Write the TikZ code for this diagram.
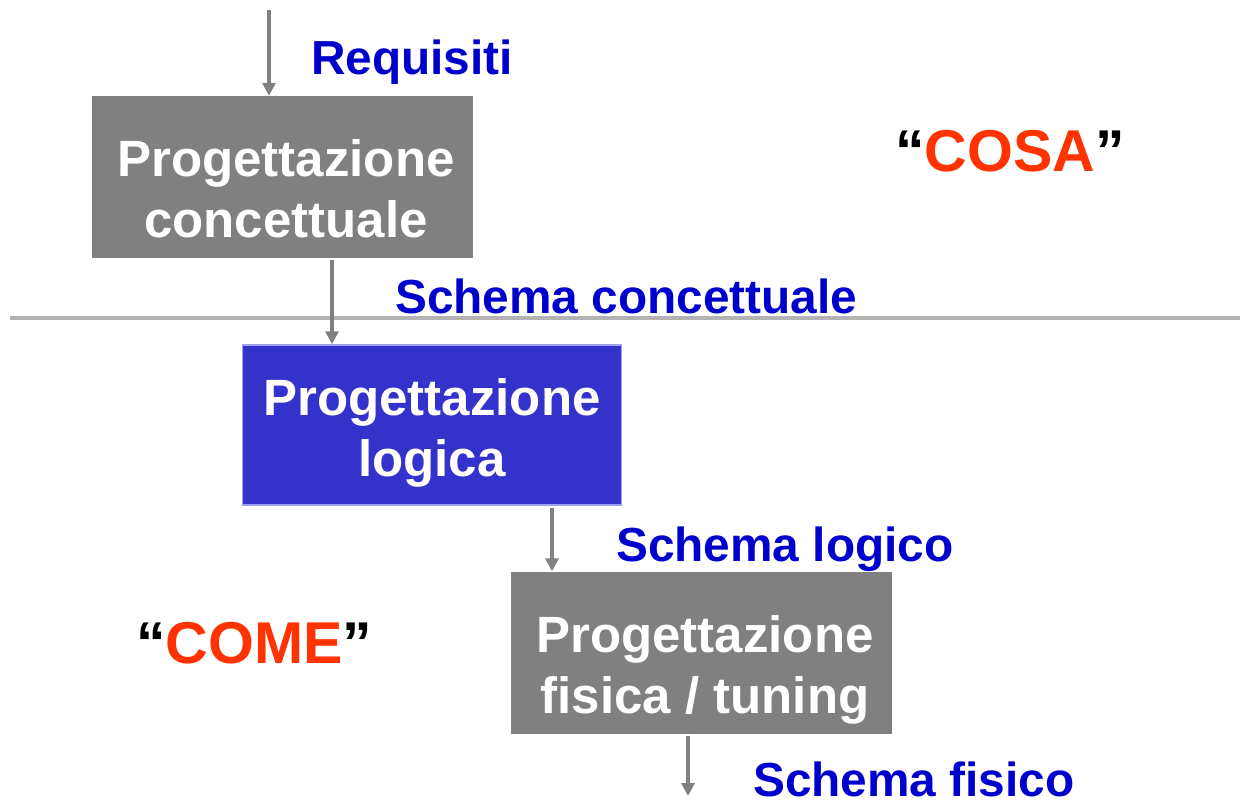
\documentclass[tikz,border=0pt]{standalone}
\usepackage{fontspec}
\setmainfont{Liberation Sans}
\usetikzlibrary{arrows.meta}
\definecolor{boxgray}{HTML}{808080}
\definecolor{boxblue}{HTML}{3333CC}
\definecolor{boxblueedge}{HTML}{A0A0F0}
\definecolor{lblblue}{HTML}{0000CC}
\definecolor{wordred}{HTML}{FF3300}
\definecolor{rulegray}{HTML}{B3B3B3}
\tikzset{
  stepbox/.style={rectangle, inner sep=0pt, minimum width=381pt, minimum height=162pt},
  boxtext/.style={inner sep=0pt, align=center, text=white, font=\bfseries\fontsize{51}{61}\selectfont},
  flowlbl/.style={inner sep=0pt, anchor=base west, text=lblblue, font=\bfseries\fontsize{47.8}{56}\selectfont},
  bigword/.style={inner sep=0pt, anchor=base west, font=\bfseries\fontsize{59}{70}\selectfont},
  flowarr/.style={draw=boxgray, line width=3.4pt, -{Triangle[length=13pt,width=13pt]}},
}
\begin{document}
\begin{tikzpicture}[x=1pt,y=-1pt]
\useasboundingbox (0,0) rectangle (1246,802);
% boxes
\node[stepbox, fill=boxgray] (b1) at (282.5,177) {};
\node[stepbox, fill=boxblue, draw=boxblueedge, line width=1.5pt, minimum width=379pt, minimum height=160pt] (b2) at (432,425) {};
\node[stepbox, fill=boxgray] (b3) at (701,652.5) {};
\node[boxtext] (t1) at (286,189) {Progettazione\\concettuale};
\node[boxtext] (t2) at (432,433) {Progettazione\\logica};
\node[boxtext] (t3) at (705,670) {Progettazione\\fisica / tuning};
% separator
\coordinate (ruleL) at (10,318);
\coordinate (ruleR) at (1240,318);
\draw[rulegray, line width=3.4pt] (ruleL) -- (ruleR);
% arrows
\coordinate (in) at (269,10);
\coordinate (out) at (688,796);
\draw[flowarr] (in) -- (in |- b1.north);
\draw[flowarr] ([xshift=49.5pt,yshift=-2pt]b1.south) -- ([xshift=49.5pt]b1.south |- b2.north);
\draw[flowarr] ([xshift=120pt,yshift=-2pt]b2.south) -- ([xshift=120pt]b2.south |- b3.north);
\draw[flowarr] ([xshift=-13pt,yshift=-2pt]b3.south) -- ([xshift=-13pt]b3.south |- out);
% labels
\node[flowlbl] (l1) at (311,75) {Requisiti};
\node[flowlbl] (l2) at (395,313) {Schema concettuale};
\node[flowlbl] (l3) at (616,561) {Schema logico};
\node[flowlbl] (l4) at (753,796) {Schema fisico};
\node[bigword] (cosa) at (895,172) {“\textcolor{wordred}{COSA}”};
\node[bigword] (come) at (136,663) {“\textcolor{wordred}{COME}”};
\end{tikzpicture}
\end{document}
